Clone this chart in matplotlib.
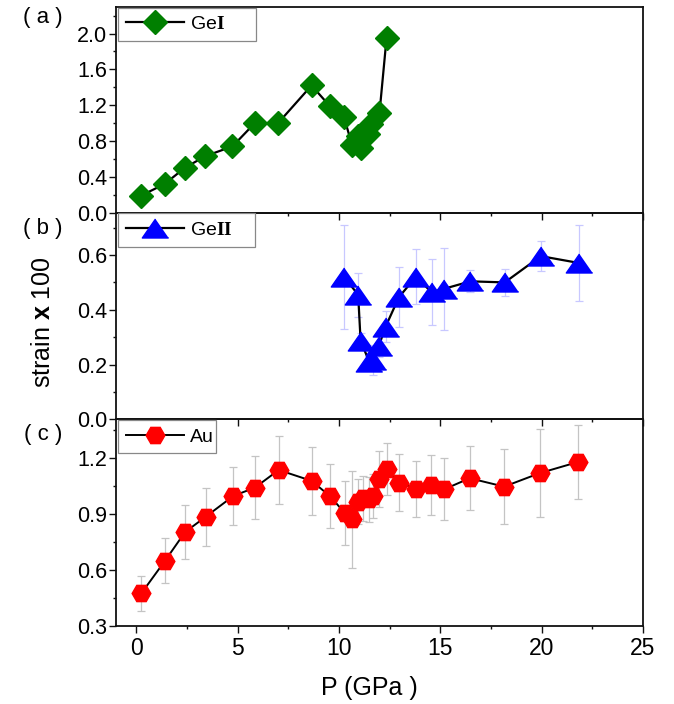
import matplotlib
matplotlib.use("Agg")
import matplotlib.pyplot as plt
from matplotlib.ticker import MultipleLocator, FormatStrFormatter

plt.rcParams['font.family'] = ['Liberation Sans', 'DejaVu Sans']
plt.rcParams['mathtext.fontset'] = 'custom'
plt.rcParams['mathtext.bf'] = 'Liberation Serif:bold'
plt.rcParams['mathtext.rm'] = 'Liberation Sans'
plt.rcParams['mathtext.sf'] = 'Liberation Sans:bold'

# ---- data ----
geI_p = [0.25, 1.4, 2.4, 3.4, 4.75, 5.85, 7.0, 8.65, 9.55, 10.25, 10.65, 10.95, 11.1, 11.45, 11.6, 12.0, 12.35]
geI_strain = [0.19, 0.32, 0.50, 0.63, 0.74, 1.00, 1.00, 1.42, 1.19, 1.07, 0.75, 0.86, 0.72, 0.88, 0.99, 1.11, 1.95]

geII_p = [10.25, 10.95, 11.07, 11.5, 11.7, 11.97, 12.3, 12.96, 13.8, 14.57, 15.2, 16.49, 18.18, 19.96, 21.84]
geII_strain = [0.52, 0.455, 0.286, 0.21, 0.218, 0.268, 0.338, 0.446, 0.521, 0.464, 0.477, 0.504, 0.50, 0.596, 0.571]
geII_err = [0.19, 0.08, 0.03, 0.02, 0.055, 0.04, 0.056, 0.11, 0.10, 0.12, 0.15, 0.04, 0.05, 0.055, 0.14]

au_p = [0.25, 1.43, 2.41, 3.44, 4.79, 5.86, 7.03, 8.65, 9.55, 10.3, 10.65, 10.95, 11.2, 11.5, 11.7, 12.0,
        12.35, 12.95, 13.8, 14.55, 15.2, 16.45, 18.15, 19.9, 21.8]
au_strain = [0.474, 0.65, 0.802, 0.885, 0.995, 1.04, 1.134, 1.076, 0.995, 0.903, 0.871, 0.965, 0.983, 0.978,
             0.995, 1.085, 1.138, 1.067, 1.033, 1.054, 1.031, 1.09, 1.045, 1.117, 1.177]
au_err = [0.095, 0.12, 0.145, 0.155, 0.157, 0.17, 0.18, 0.18, 0.17, 0.17, 0.26, 0.12, 0.12, 0.12, 0.12, 0.15,
          0.14, 0.15, 0.15, 0.16, 0.165, 0.17, 0.2, 0.235, 0.2]

panel_labels = ['( a )', '( b )', '( c )']
legend_labels = [r'Ge$\mathbf{I}$', r'Ge$\mathbf{II}$', 'Au']
x_label = 'P (GPa )'
y_label = r'strain $\mathsf{x}$ 100'

fig = plt.figure(figsize=(6.74, 7.04), dpi=100)
left, width = 0.172, 0.782
axA = fig.add_axes([left, 0.698, width, 0.2925])
axB = fig.add_axes([left, 0.4044, width, 0.2936])
axC = fig.add_axes([left, 0.1108, width, 0.2936])
axes = [axA, axB, axC]

tri = [(0, 0.72), (-1, -0.72), (1, -0.72)]

axA.plot(geI_p, geI_strain, color='black', lw=1.6, marker='D', ms=12.3,
         mfc='#007f00', mec='#007f00', label=legend_labels[0], zorder=3)

axB.errorbar(geII_p, geII_strain, yerr=geII_err, fmt='none', ecolor='#c8c8ff', elinewidth=0.9,
             capsize=3, capthick=0.9, zorder=1)
axB.plot(geII_p, geII_strain, color='black', lw=1.6, marker=tri, ms=19,
         mfc='#0000ff', mec='#0000ff', label=legend_labels[1], zorder=3)

axC.errorbar(au_p, au_strain, yerr=au_err, fmt='none', ecolor='#c4c4c4', elinewidth=0.9,
             capsize=3, capthick=0.9, zorder=1)
axC.plot(au_p, au_strain, color='black', lw=1.4, marker='H', ms=13.5,
         mfc='#ff0000', mec='#ff0000', label=legend_labels[2], zorder=3)

axA.set_ylim(0, 2.3)
axA.yaxis.set_major_locator(MultipleLocator(0.4))
axA.yaxis.set_minor_locator(MultipleLocator(0.2))
axB.set_ylim(0, 0.755)
axB.yaxis.set_major_locator(MultipleLocator(0.2))
axB.yaxis.set_minor_locator(MultipleLocator(0.1))
axC.set_ylim(0.3, 1.405)
axC.set_yticks([0.3, 0.6, 0.9, 1.2])
axC.yaxis.set_minor_locator(MultipleLocator(0.15))

legend_widths = [0.262, 0.260, 0.186]
for i, ax in enumerate(axes):
    ax.set_xlim(-1, 25)
    ax.xaxis.set_major_locator(MultipleLocator(5))
    ax.xaxis.set_minor_locator(MultipleLocator(2.5))
    ax.patch.set_alpha(0)
    ax.tick_params(which='major', direction='out', length=5, width=1.0, color='#111111', pad=1.5)
    ax.tick_params(which='minor', direction='out', length=2.5, width=1.0, color='#111111')
    ax.tick_params(axis='y', labelsize=15.5)
    ax.tick_params(axis='x', labelsize=16.5, pad=3)
    ax.yaxis.set_major_formatter(FormatStrFormatter('%.1f'))
    for s in ax.spines.values():
        s.set_linewidth(1.3)
        s.set_color('#111111')
    if i < 2:
        ax.tick_params(axis='x', labelbottom=False)
    leg = ax.legend(loc='upper left', bbox_to_anchor=(0.004, 0.996, legend_widths[i], 0),
                    mode='expand', fontsize=14, handlelength=3.0, borderaxespad=0.0,
                    fancybox=False, framealpha=1, edgecolor='#888888', borderpad=0.4,
                    handletextpad=0.3)
    leg.get_frame().set_linewidth(0.9)

for lab, yc in zip(panel_labels, [0.975, 0.676, 0.383]):
    fig.text(0.064, yc, lab, fontsize=16, ha='center', va='center')

fig.text(0.064, 0.543, y_label, rotation=90, fontsize=18, ha='center', va='center')
fig.text(0.5475, 0.023, x_label, fontsize=18, ha='center', va='center')

fig.savefig('out.png', dpi=100)
